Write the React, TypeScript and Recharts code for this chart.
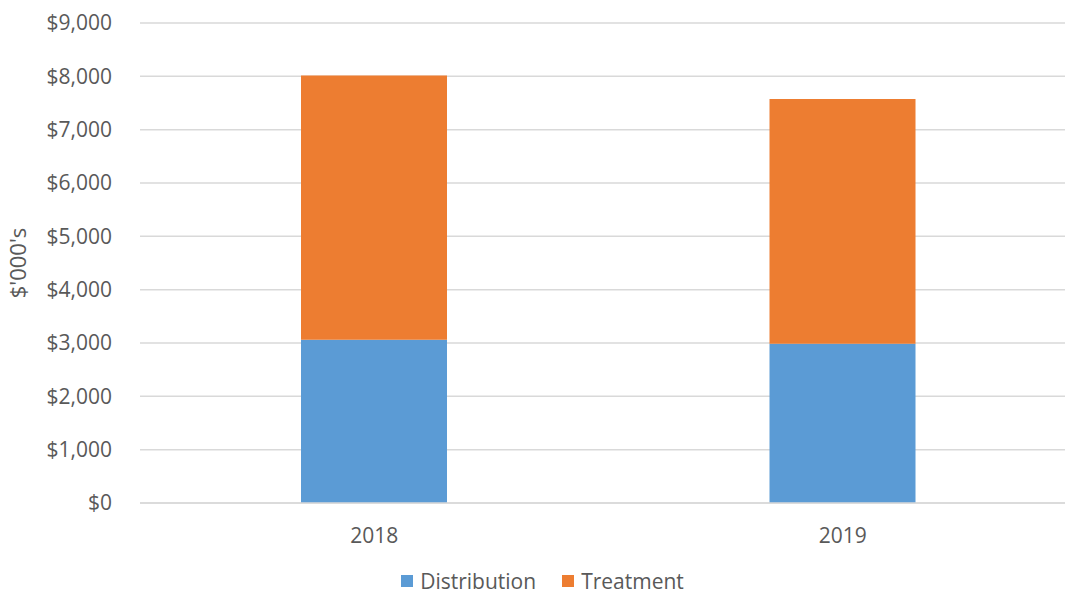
import { Bar, BarChart, CartesianGrid, Legend, XAxis, YAxis } from "recharts";

const years = ["2018", "2019"];
const distribution = [3060, 2985];
const treatment = [4955, 4590];
const yTicks = [0, 1000, 2000, 3000, 4000, 5000, 6000, 7000, 8000, 9000];

const series = [
  { key: "distribution", name: "Distribution", color: "#5B9BD5" },
  { key: "treatment", name: "Treatment", color: "#ED7D31" },
];

const data = years.map((year, i) => ({
  year,
  distribution: distribution[i],
  treatment: treatment[i],
}));

const FONT = "'Open Sans', 'Noto Sans', sans-serif";
const TEXT = "#595959";

function money(v: number): string {
  return `$${v.toLocaleString("en-US")}`;
}

function LegendRow() {
  return (
    <div
      style={{
        display: "flex",
        justifyContent: "center",
        gap: 26,
        paddingTop: 15,
        paddingLeft: 8,
        lineHeight: "26px",
        fontFamily: FONT,
        fontSize: 21,
        color: TEXT,
      }}
    >
      {series.map((s) => (
        <span key={s.key} style={{ display: "inline-flex", alignItems: "center", gap: 7 }}>
          <span style={{ width: 12, height: 12, backgroundColor: s.color, display: "inline-block" }} />
          {s.name}
        </span>
      ))}
    </div>
  );
}

export default function App() {
  return (
    <div
      style={{
        position: "absolute",
        left: 0,
        top: 0,
        width: 1065,
        height: 596,
        overflow: "hidden",
        background: "#fff",
      }}
    >
      <BarChart
        width={1080}
        height={596}
        data={data}
        margin={{ top: 23, right: 3, left: 0, bottom: 0 }}
      >
        <CartesianGrid stroke="#D9D9D9" strokeWidth={1.5} vertical={false} />
        <XAxis
          dataKey="year"
          height={50}
          tickLine={false}
          axisLine={{ stroke: "#D9D9D9", strokeWidth: 1.5 }}
          tick={{ fontSize: 21, fill: TEXT, fontFamily: FONT }}
          tickMargin={19}
        />
        <YAxis
          width={140}
          domain={[0, 9000]}
          ticks={yTicks}
          interval={0}
          tickFormatter={(v) => money(Number(v))}
          tickLine={false}
          axisLine={false}
          tickSize={0}
          tickMargin={28}
          tick={{ fontSize: 21, fill: TEXT, fontFamily: FONT }}
          label={{
            value: "$'000's",
            angle: -90,
            position: "insideLeft",
            offset: 18,
            style: { textAnchor: "middle", fontSize: 22, fill: TEXT, fontFamily: FONT },
          }}
        />
        <Legend verticalAlign="bottom" height={43} content={() => <LegendRow />} />
        {series.map((s) => (
          <Bar
            key={s.key}
            dataKey={s.key}
            name={s.name}
            stackId="cost"
            fill={s.color}
            barSize={146}
            isAnimationActive={false}
          />
        ))}
      </BarChart>
    </div>
  );
}
